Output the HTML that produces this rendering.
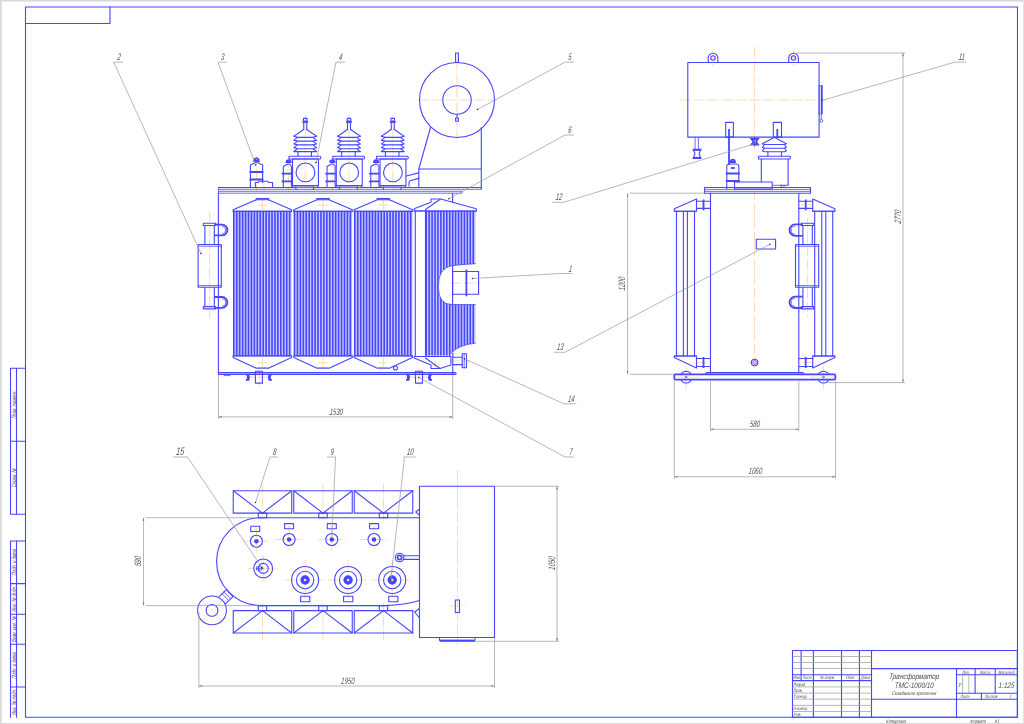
<!DOCTYPE html>
<html><head><meta charset="utf-8"><style>
html,body{margin:0;padding:0;background:#fff;}
svg{display:block;will-change:transform;}
.b{stroke:#4646ff;stroke-width:1.1;fill:none;stroke-linejoin:round;stroke-linecap:round}
.bf{fill:#4646ff;stroke:none}
.bt{stroke:#4646ff;stroke-width:0.8;fill:none}
.bk{stroke:#4646ff;stroke-width:1.8;fill:none}
.g{stroke:#9a9a9a;stroke-width:0.7;fill:none}
.c{stroke:#ffd4ac;stroke-width:0.9;fill:none;stroke-dasharray:10 1.5 1 1.5}
.t{font-family:"Liberation Sans",sans-serif;font-style:italic;fill:#4a4a4a;}
</style></head><body>
<svg width="1024" height="724" viewBox="0 0 1024 724">
<rect x="0" y="0" width="1024" height="724" fill="#fff"/>
<rect x="0" y="0" width="1024" height="1.5" fill="#d9d9d9"/>
<rect x="0" y="0" width="1.7" height="724" fill="#d9d9d9"/>
<rect x="0" y="723" width="1024" height="1" fill="#d9d9d9"/>
<rect x="1023" y="0" width="1" height="724" fill="#e4e4e4"/>

<path class="c" d="M418 100L497 100M457 60L457 143M305.25 115L305.25 190M349 115L349 190M392.75 115L392.75 190M288.6 158L288.6 192M332.35 158L332.35 192M376.1 158L376.1 192M256.5 156L256.5 192M264 181L264 193M257.35 205L267.35 205M262.35 200L262.35 210M257.35 362.8L267.35 362.8M262.35 357.5L262.35 367.5M318.05 205L328.05 205M323.05 200L323.05 210M318.05 362.8L328.05 362.8M323.05 357.5L323.05 367.5M378.35 205L388.35 205M383.35 200L383.35 210M378.35 362.8L388.35 362.8M383.35 357.5L383.35 367.5M431.5 365L440 365M435 360L435 369M450 283L480 283M450 361L470 361M244.89999999999998 377.2L272.9 377.2M258.9 368L258.9 386M405 377.2L433 377.2M419 368L419 386M209.6 212L209.6 318M754.6 47L754.6 150M680 100L826 100M706 58L720 58M713 50L713 66M786.5 58L800.5 58M793.5 50L793.5 66M754.6 190L754.6 375M696 204.8L712 204.8M696 362.5L712 362.5M813.2 204.8L797.2 204.8M813.2 362.5L797.2 362.5M748.6 362.5L760.6 362.5M686.1 366L686.1 389M823.5 366L823.5 389M807.6 218L807.6 318M262.5 484L262.5 520M262.5 603L262.5 640M323.0 484L323.0 520M323.0 603L323.0 640M383.5 484L383.5 520M383.5 603L383.5 640M457.5 470L457.5 645M450 606L465 606M242.89999999999998 541.25L269.9 541.25M256.4 528.25L256.4 554.25M275.6 539.5L302.6 539.5M289.1 526.5L289.1 552.5M318.3 539.5L345.3 539.5M331.8 526.5L331.8 552.5M360.5 539.5L387.5 539.5M374 526.5L374 552.5M248 568.4L278 568.4M263.25 555L263.25 582M285.1 580L325.1 580M305.1 560L305.1 600M328.1 580L368.1 580M348.1 560L348.1 600M372.2 580L412.2 580M392.2 560L392.2 600M202 600.4 L222 620.4 M202 620.4 L222 600.4M216 606.6L231 591.6"/>
<g>
<rect class="b" x="25.5" y="7" width="992" height="710.2"/>
<path class="b" d="M25.5 23.5 H110 V7"/>
<path class="b" d="M25.5 368.3 H10.5 V514.3 H25.5"/>
<line class="b" x1="16.5" y1="368.3" x2="16.5" y2="514.3"/>
<line class="b" x1="10.5" y1="441.3" x2="25.5" y2="441.3"/>
<path class="b" d="M25.5 541 H10.5 V717.2"/>
<line class="b" x1="16.5" y1="541" x2="16.5" y2="717.2"/>
<line class="b" x1="10.5" y1="583.6" x2="25.5" y2="583.6"/>
<line class="b" x1="10.5" y1="614.3" x2="25.5" y2="614.3"/>
<line class="b" x1="10.5" y1="644.3" x2="25.5" y2="644.3"/>
<line class="b" x1="10.5" y1="687" x2="25.5" y2="687"/>
</g>
<text class="t" transform="translate(15.6,404.8) rotate(-90) skewX(-5) scale(0.7,1)" font-size="6.0" text-anchor="middle">Перв. примен.</text>
<text class="t" transform="translate(15.6,477.79999999999995) rotate(-90) skewX(-5) scale(0.7,1)" font-size="6.0" text-anchor="middle">Справ. №</text>
<text class="t" transform="translate(15.6,562.3) rotate(-90) skewX(-5) scale(0.7,1)" font-size="6.0" text-anchor="middle">Подп. и дата</text>
<text class="t" transform="translate(15.6,598.95) rotate(-90) skewX(-5) scale(0.7,1)" font-size="6.0" text-anchor="middle">Инв. № дубл.</text>
<text class="t" transform="translate(15.6,629.3) rotate(-90) skewX(-5) scale(0.7,1)" font-size="6.0" text-anchor="middle">Взам. инв. №</text>
<text class="t" transform="translate(15.6,665.65) rotate(-90) skewX(-5) scale(0.7,1)" font-size="6.0" text-anchor="middle">Подп. и дата</text>
<text class="t" transform="translate(15.6,702.1) rotate(-90) skewX(-5) scale(0.7,1)" font-size="6.0" text-anchor="middle">Инв. № подл.</text>
<rect class="b" x="792.5" y="650.5" width="224.8" height="66.7"/>
<line class="b" x1="813.4" y1="650.5" x2="813.4" y2="717.2"/>
<line class="b" x1="841.5" y1="650.5" x2="841.5" y2="717.2"/>
<line class="b" x1="859.4" y1="650.5" x2="859.4" y2="717.2"/>
<line class="b" x1="871.5" y1="650.5" x2="871.5" y2="717.2"/>
<line class="b" x1="801.1" y1="650.5" x2="801.1" y2="680.6"/>
<line class="g" x1="792.5" y1="656.5" x2="871.5" y2="656.5"/>
<line class="g" x1="792.5" y1="662.5" x2="871.5" y2="662.5"/>
<line class="g" x1="792.5" y1="668.5" x2="871.5" y2="668.5"/>
<line class="b" x1="792.5" y1="674.75" x2="871.5" y2="674.75"/>
<line class="b" x1="792.5" y1="680.6" x2="871.5" y2="680.6"/>
<line class="g" x1="792.5" y1="686.9" x2="871.5" y2="686.9"/>
<line class="g" x1="792.5" y1="693.1" x2="871.5" y2="693.1"/>
<line class="g" x1="792.5" y1="699.1" x2="871.5" y2="699.1"/>
<line class="g" x1="792.5" y1="705.4" x2="871.5" y2="705.4"/>
<line class="g" x1="792.5" y1="711.5" x2="871.5" y2="711.5"/>
<line class="b" x1="871.5" y1="668.6" x2="1017.3" y2="668.6"/>
<line class="b" x1="871.5" y1="699.3" x2="1017.3" y2="699.3"/>
<line class="b" x1="956.5" y1="668.6" x2="956.5" y2="717.2"/>
<line class="b" x1="956.5" y1="674.7" x2="1017.3" y2="674.7"/>
<line class="b" x1="956.5" y1="693.2" x2="1017.3" y2="693.2"/>
<line class="b" x1="975.1" y1="668.6" x2="975.1" y2="693.2"/>
<line class="b" x1="995.2" y1="668.6" x2="995.2" y2="693.2"/>
<line class="b" x1="981.4" y1="693.2" x2="981.4" y2="699.3"/>
<line class="g" x1="962.6" y1="674.7" x2="962.6" y2="693.2"/>
<line class="g" x1="968.8" y1="674.7" x2="968.8" y2="693.2"/>
<text class="t" transform="translate(797,679.4) skewX(-5) scale(0.75,1)" font-size="4.6" text-anchor="middle">Изм.</text>
<text class="t" transform="translate(807.3,679.4) skewX(-5) scale(0.75,1)" font-size="4.6" text-anchor="middle">Лист</text>
<text class="t" transform="translate(827.5,679.4) skewX(-5) scale(0.75,1)" font-size="4.6" text-anchor="middle">№ докум.</text>
<text class="t" transform="translate(850.5,679.4) skewX(-5) scale(0.75,1)" font-size="4.6" text-anchor="middle">Подп.</text>
<text class="t" transform="translate(865.5,679.4) skewX(-5) scale(0.75,1)" font-size="4.6" text-anchor="middle">Дата</text>
<text class="t" transform="translate(793.5,685.6) skewX(-5) scale(0.75,1)" font-size="4.6" text-anchor="start">Разраб.</text>
<text class="t" transform="translate(793.5,691.8) skewX(-5) scale(0.75,1)" font-size="4.6" text-anchor="start">Пров.</text>
<text class="t" transform="translate(793.5,697.8) skewX(-5) scale(0.75,1)" font-size="4.6" text-anchor="start">Т.контр.</text>
<text class="t" transform="translate(793.5,710.2) skewX(-5) scale(0.75,1)" font-size="4.6" text-anchor="start">Н.контр.</text>
<text class="t" transform="translate(793.5,716) skewX(-5) scale(0.75,1)" font-size="4.6" text-anchor="start">Утв.</text>
<text class="t" transform="translate(914,679) skewX(-5) scale(0.8,1)" font-size="8" text-anchor="middle">Трансформатор</text>
<text class="t" transform="translate(914,687.5) skewX(-5) scale(0.8,1)" font-size="8" text-anchor="middle">ТМС-1000/10</text>
<text class="t" transform="translate(914,695) skewX(-5) scale(0.8,1)" font-size="5.2" text-anchor="middle">Складальне креслення</text>
<text class="t" transform="translate(966,673.6) skewX(-5) scale(0.75,1)" font-size="4.6" text-anchor="middle">Лит.</text>
<text class="t" transform="translate(985.2,673.6) skewX(-5) scale(0.75,1)" font-size="4.6" text-anchor="middle">Масса</text>
<text class="t" transform="translate(1006.3,673.6) skewX(-5) scale(0.75,1)" font-size="4.6" text-anchor="middle">Масштаб</text>
<text class="t" transform="translate(1006.3,687.5) skewX(-5) scale(0.8,1)" font-size="8" text-anchor="middle">1:125</text>
<text class="t" transform="translate(959.5,687) skewX(-5) scale(0.8,1)" font-size="6" text-anchor="middle">У</text>
<text class="t" transform="translate(965,698.4) skewX(-5) scale(0.75,1)" font-size="4.6" text-anchor="middle">Лист</text>
<text class="t" transform="translate(991,698.4) skewX(-5) scale(0.75,1)" font-size="4.6" text-anchor="middle">Листов</text>
<text class="t" transform="translate(1010.5,698.4) skewX(-5) scale(0.75,1)" font-size="4.6" text-anchor="middle">1</text>
<text class="t" transform="translate(896,722.5) skewX(-5) scale(0.8,1)" font-size="5" text-anchor="middle">Копировал</text>
<text class="t" transform="translate(978,722.5) skewX(-5) scale(0.8,1)" font-size="5" text-anchor="middle">Формат</text>
<text class="t" transform="translate(997,722.5) skewX(-5) scale(0.8,1)" font-size="5" text-anchor="middle">А1</text>
<circle class="b" cx="457" cy="100" r="37.5"/>
<circle class="b" cx="457" cy="100" r="14.25"/>
<rect class="b" x="455.6" y="53" width="2.8" height="9.5"/>
<path class="b" d="M457 114.3 V118 M455.6 118 h2.8 v3.2 h-2.8 z"/>
<path class="b" d="M430.5 127.5 L418.8 169 V187.3"/>
<path class="b" d="M418.8 169 H481.3 M481.3 127.5 V189.3"/>
<path class="b" d="M406.3 176 L418.8 172.9 M418.8 178.4 L410 180.7 Q409 181 409 183 V186"/>
<path class="bt" d="M218.4 187.5 H481.3 M218.4 189.3 H481.3 M218.4 191.3 H462.6 L461.8 193.2 H218.4 V187.5"/>
<line class="b" x1="218.4" y1="187.5" x2="481.3" y2="187.5"/>
<line class="b" x1="218.4" y1="193.2" x2="218.4" y2="373.6"/>
<line class="b" x1="452.6" y1="193.2" x2="452.6" y2="202.2"/>
<line class="b" x1="452.8" y1="353.3" x2="452.8" y2="373.6"/>
<path class="b" d="M218.4 372.6 H455.6 Q456.6 373.5 455.6 374.4 H218.4"/>
<path class="bt" d="M224.1 374.4 V375.6 H230 V374.4"/>
<rect class="b" x="303.45" y="118.4" width="3.6" height="2.6"/>
<path class="bk" d="M302.35 122 H308.15"/>
<path class="b" d="M303.75 123 V129.5 M306.75 123 V129.5"/>
<path class="b" d="M303.65 129.5 Q300.25 132 293.85 136.1 M306.85 129.5 Q310.25 132 316.65 136.1"/>
<path class="b" d="M293.85 136.3 L297.65 137.35000000000002 L293.85 140.1 L297.65 141.15 L293.85 143.85 L297.65 144.9 L293.85 147.65 L297.65 148.70000000000002 L293.85 151.4M316.65 136.3 L312.85 137.35000000000002 L316.65 140.1 L312.85 141.15 L316.65 143.85 L312.85 144.9 L316.65 147.65 L312.85 148.70000000000002 L316.65 151.4 M297.65 137.35000000000002 H312.85 M297.65 141.15 H312.85 M297.65 144.9 H312.85 M297.65 148.70000000000002 H312.85 M293.85 151.6 H316.65"/>
<path class="b" d="M297.95 151.6 V156.3 M311.45 151.6 V156.3"/>
<path class="b" d="M289.05 156.3 H320.25 Q321.45 157.6 320.25 159 H289.05 Z"/>
<rect class="b" x="292.55" y="159" width="25.9" height="26.6"/>
<circle class="b" cx="305.45" cy="172.4" r="9.4"/>
<path class="b" d="M295.95 185.6 V189.4 M313.45 185.6 V189.4 M317.85 185.6 V187.5"/>
<rect x="295.95" y="186" width="17.5" height="1.5" fill="#9a9aff"/>
<rect class="b" x="347.2" y="118.4" width="3.6" height="2.6"/>
<path class="bk" d="M346.1 122 H351.9"/>
<path class="b" d="M347.5 123 V129.5 M350.5 123 V129.5"/>
<path class="b" d="M347.4 129.5 Q344 132 337.6 136.1 M350.6 129.5 Q354 132 360.4 136.1"/>
<path class="b" d="M337.6 136.3 L341.4 137.35000000000002 L337.6 140.1 L341.4 141.15 L337.6 143.85 L341.4 144.9 L337.6 147.65 L341.4 148.70000000000002 L337.6 151.4M360.4 136.3 L356.6 137.35000000000002 L360.4 140.1 L356.6 141.15 L360.4 143.85 L356.6 144.9 L360.4 147.65 L356.6 148.70000000000002 L360.4 151.4 M341.4 137.35000000000002 H356.6 M341.4 141.15 H356.6 M341.4 144.9 H356.6 M341.4 148.70000000000002 H356.6 M337.6 151.6 H360.4"/>
<path class="b" d="M341.7 151.6 V156.3 M355.2 151.6 V156.3"/>
<path class="b" d="M332.8 156.3 H364 Q365.2 157.6 364 159 H332.8 Z"/>
<rect class="b" x="336.3" y="159" width="25.9" height="26.6"/>
<circle class="b" cx="349.2" cy="172.4" r="9.4"/>
<path class="b" d="M339.7 185.6 V189.4 M357.2 185.6 V189.4 M361.6 185.6 V187.5"/>
<rect x="339.7" y="186" width="17.5" height="1.5" fill="#9a9aff"/>
<rect class="b" x="390.95" y="118.4" width="3.6" height="2.6"/>
<path class="bk" d="M389.85 122 H395.65"/>
<path class="b" d="M391.25 123 V129.5 M394.25 123 V129.5"/>
<path class="b" d="M391.15 129.5 Q387.75 132 381.35 136.1 M394.35 129.5 Q397.75 132 404.15 136.1"/>
<path class="b" d="M381.35 136.3 L385.15 137.35000000000002 L381.35 140.1 L385.15 141.15 L381.35 143.85 L385.15 144.9 L381.35 147.65 L385.15 148.70000000000002 L381.35 151.4M404.15 136.3 L400.35 137.35000000000002 L404.15 140.1 L400.35 141.15 L404.15 143.85 L400.35 144.9 L404.15 147.65 L400.35 148.70000000000002 L404.15 151.4 M385.15 137.35000000000002 H400.35 M385.15 141.15 H400.35 M385.15 144.9 H400.35 M385.15 148.70000000000002 H400.35 M381.35 151.6 H404.15"/>
<path class="b" d="M385.45 151.6 V156.3 M398.95 151.6 V156.3"/>
<path class="b" d="M376.55 156.3 H407.75 Q408.95 157.6 407.75 159 H376.55 Z"/>
<rect class="b" x="380.05" y="159" width="25.9" height="26.6"/>
<circle class="b" cx="392.95" cy="172.4" r="9.4"/>
<path class="b" d="M383.45 185.6 V189.4 M400.95 185.6 V189.4 M405.35 185.6 V187.5"/>
<rect x="383.45" y="186" width="17.5" height="1.5" fill="#9a9aff"/>
<path class="bk" d="M286.5 162.2 Q286.6 160.2 288.6 160.2 Q290.6 160.2 290.70000000000005 162.2 Z"/>
<path class="b" d="M283.3 187.5 V166.6 L287.8 164 H289.40000000000003 L291.40000000000003 166.2 V186.3 L294.1 187.5 H281.6"/>
<path class="bk" d="M281.6 173.6 H291.6 M281.6 181.3 H291.6"/>
<path class="bk" d="M330.25 162.2 Q330.35 160.2 332.35 160.2 Q334.35 160.2 334.45000000000005 162.2 Z"/>
<path class="b" d="M327.05 187.5 V166.6 L331.55 164 H333.15000000000003 L335.15000000000003 166.2 V186.3 L337.85 187.5 H325.35"/>
<path class="bk" d="M325.35 173.6 H335.35 M325.35 181.3 H335.35"/>
<path class="bk" d="M374.0 162.2 Q374.1 160.2 376.1 160.2 Q378.1 160.2 378.20000000000005 162.2 Z"/>
<path class="b" d="M370.8 187.5 V166.6 L375.3 164 H376.90000000000003 L378.90000000000003 166.2 V186.3 L381.6 187.5 H369.1"/>
<path class="bk" d="M369.1 173.6 H379.1 M369.1 181.3 H379.1"/>
<path class="bk" d="M254.2 161 Q254.2 158.4 256.5 158.4 Q258.8 158.4 258.8 161 Z"/>
<path class="b" d="M250.4 187.3 V165 L255.0 162.8 H258.0 L262.6 165 V182.5"/>
<path class="bk" d="M249.5 172 H263.5 M249.5 179.5 H263.5"/>
<path class="b" d="M255.4 187.3 V182.5 H258.2 L259 181.3 H267.8 L268.6 182.5 H272.6 V187.3"/>
<g>
<rect x="233.1" y="211" width="58.50000000000003" height="144.8" fill="#c8c8ff"/>
<path d="M233.80 211V355.8M236.74 211V355.8M239.68 211V355.8M242.62 211V355.8M245.56 211V355.8M248.50 211V355.8M251.44 211V355.8M254.38 211V355.8M257.32 211V355.8M260.26 211V355.8M263.20 211V355.8M266.14 211V355.8M269.08 211V355.8M272.02 211V355.8M274.96 211V355.8M277.90 211V355.8M280.84 211V355.8M283.78 211V355.8M286.72 211V355.8M289.66 211V355.8" stroke="#4646ff" stroke-width="1.6" fill="none"/>
</g>
<path class="b" d="M233.1 211.2 V209.8 L256.35 199.8 H268.35 L291.6 209.8 V211.2 Z"/>
<path class="b" d="M256.15000000000003 199.8 V198.6 H268.55 V199.8"/>
<path class="b" d="M233.1 356 V357.6 L256.35 368.2 H268.35 L291.6 357.6 V356 Z"/>
<rect x="256.85" y="367.2" width="11" height="1.2" fill="#8a8aff"/>
<line class="b" x1="233.1" y1="211.2" x2="291.6" y2="211.2"/>
<line class="b" x1="233.1" y1="355.8" x2="291.6" y2="355.8"/>
<g>
<rect x="293.8" y="211" width="58.5" height="144.8" fill="#c8c8ff"/>
<path d="M294.50 211V355.8M297.44 211V355.8M300.38 211V355.8M303.32 211V355.8M306.26 211V355.8M309.20 211V355.8M312.14 211V355.8M315.08 211V355.8M318.02 211V355.8M320.96 211V355.8M323.90 211V355.8M326.84 211V355.8M329.78 211V355.8M332.72 211V355.8M335.66 211V355.8M338.60 211V355.8M341.54 211V355.8M344.48 211V355.8M347.42 211V355.8M350.36 211V355.8" stroke="#4646ff" stroke-width="1.6" fill="none"/>
</g>
<path class="b" d="M293.8 211.2 V209.8 L317.05 199.8 H329.05 L352.3 209.8 V211.2 Z"/>
<path class="b" d="M316.85 199.8 V198.6 H329.25 V199.8"/>
<path class="b" d="M293.8 356 V357.6 L317.05 368.2 H329.05 L352.3 357.6 V356 Z"/>
<rect x="317.55" y="367.2" width="11" height="1.2" fill="#8a8aff"/>
<line class="b" x1="293.8" y1="211.2" x2="352.3" y2="211.2"/>
<line class="b" x1="293.8" y1="355.8" x2="352.3" y2="355.8"/>
<g>
<rect x="354.1" y="211" width="58.5" height="144.8" fill="#c8c8ff"/>
<path d="M354.80 211V355.8M357.74 211V355.8M360.68 211V355.8M363.62 211V355.8M366.56 211V355.8M369.50 211V355.8M372.44 211V355.8M375.38 211V355.8M378.32 211V355.8M381.26 211V355.8M384.20 211V355.8M387.14 211V355.8M390.08 211V355.8M393.02 211V355.8M395.96 211V355.8M398.90 211V355.8M401.84 211V355.8M404.78 211V355.8M407.72 211V355.8M410.66 211V355.8" stroke="#4646ff" stroke-width="1.6" fill="none"/>
</g>
<path class="b" d="M354.1 211.2 V209.8 L377.35 199.8 H389.35 L412.6 209.8 V211.2 Z"/>
<path class="b" d="M377.15000000000003 199.8 V198.6 H389.55 V199.8"/>
<path class="b" d="M354.1 356 V357.6 L377.35 368.2 H389.35 L412.6 357.6 V356 Z"/>
<rect x="377.85" y="367.2" width="11" height="1.2" fill="#8a8aff"/>
<line class="b" x1="354.1" y1="211.2" x2="412.6" y2="211.2"/>
<line class="b" x1="354.1" y1="355.8" x2="412.6" y2="355.8"/>
<defs><clipPath id="r4"><path d="M425.5 211 H475.8 V263.7 Q460 264.5 451.9 265.7 Q438 268 438.3 287 Q438.5 304.5 451.9 304.6 H475.8 V343.1 Q458.7 344.7 451 353.3 V355.8 H425.5 Z"/></clipPath></defs>
<g clip-path="url(#r4)">
<rect x="425.5" y="211" width="50.30000000000001" height="144.8" fill="#c8c8ff"/>
<path d="M426.20 211V355.8M429.14 211V355.8M432.08 211V355.8M435.02 211V355.8M437.96 211V355.8M440.90 211V355.8M443.84 211V355.8M446.78 211V355.8M449.72 211V355.8M452.66 211V355.8M455.60 211V355.8M458.54 211V355.8M461.48 211V355.8M464.42 211V355.8M467.36 211V355.8M470.30 211V355.8M473.24 211V355.8" stroke="#4646ff" stroke-width="1.6" fill="none"/>
</g>
<path class="b" d="M414.2 211 V208.8 L431 202.2 V199 H440.7 L476.3 208.8 V211 Z"/>
<path class="b" d="M440.2 199.3 L425.5 209.5 V356 M415.3 211 V356"/>
<line class="b" x1="414.2" y1="211" x2="476.3" y2="211"/>
<path class="b" d="M414.2 356.5 V358 L431 365 V368.5 H440 L450.9 365 V356.5 Z"/>
<path class="b" d="M425.5 358 L440 368.5"/>
<path class="bt" d="M475.8 263.7 Q460 264.5 451.9 265.7 Q438 268 438.3 287 Q438.5 304.5 451.9 304.6 H475.8"/>
<path class="bt" d="M475.8 343.1 Q458.7 344.7 451 353.3"/>
<rect class="b" x="452.6" y="271.5" width="26" height="22.8"/>
<line class="b" x1="452.6" y1="266" x2="452.6" y2="304.4"/>
<line class="bk" x1="466.4" y1="269.5" x2="466.4" y2="296.3"/>
<path class="b" d="M452.8 357.2 H462.2 M452.8 364.6 H462.2"/>
<rect class="b" x="462.2" y="353.7" width="4.3" height="14"/>
<line class="bt" x1="464.2" y1="353.7" x2="464.2" y2="367.7"/>
<circle class="b" cx="395.5" cy="368" r="2"/>
<rect class="b" x="255.39999999999998" y="371.3" width="7" height="11.8"/>
<path class="bk" d="M245.89999999999998 374.6 H249.39999999999998 M245.89999999999998 379.9 H249.39999999999998 M271.9 374.6 H268.4 M271.9 379.9 H268.4"/>
<path class="bk" d="M248.09999999999997 375 Q249.89999999999998 377.2 248.09999999999997 379.5 M269.7 375 Q267.9 377.2 269.7 379.5"/>
<rect x="246.89999999999998" y="375" width="1.8" height="4.5" fill="#4646ff"/>
<rect x="269.09999999999997" y="375" width="1.8" height="4.5" fill="#4646ff"/>
<rect class="b" x="415.5" y="371.3" width="7" height="11.8"/>
<path class="bk" d="M406 374.6 H409.5 M406 379.9 H409.5 M432 374.6 H428.5 M432 379.9 H428.5"/>
<path class="bk" d="M408.2 375 Q410 377.2 408.2 379.5 M429.8 375 Q428 377.2 429.8 379.5"/>
<rect x="407" y="375" width="1.8" height="4.5" fill="#4646ff"/>
<rect x="429.2" y="375" width="1.8" height="4.5" fill="#4646ff"/>
<path class="b" d="M203.3 223.2 H215.7 V225.5 H203.3 Z"/>
<path class="b" d="M204.9 225.5 V244.5 M214.3 225.5 V244.5"/>
<path class="bk" d="M214.3 224.6 H222 A5.4 5.4 0 0 1 222 235.4 H214.3"/>
<path class="bt" d="M222 226.2 A3.8 3.8 0 0 1 222 233.8"/>
<rect class="b" x="198.1" y="244.5" width="23.2" height="42.8"/>
<line class="bt" x1="198.1" y1="246.2" x2="221.3" y2="246.2"/>
<line class="bt" x1="198.1" y1="285.6" x2="221.3" y2="285.6"/>
<path class="b" d="M204.9 287.3 V306.6 M214.3 287.3 V306.6"/>
<path class="b" d="M203.3 306.6 H215.7 V308.9 H203.3 Z"/>
<path class="bk" d="M214.3 297 H222 A5.4 5.4 0 0 1 222 307.8 H214.3"/>
<path class="bt" d="M222 298.6 A3.8 3.8 0 0 1 222 306.2"/>
<rect class="b" x="687.8" y="62.5" width="131.3" height="74.6"/>
<path class="b" d="M708.2 62.5 V58 A4.8 4.8 0 0 1 717.8 58 V62.5"/>
<circle class="b" cx="713" cy="58" r="2.2"/>
<path class="b" d="M788.7 62.5 V58 A4.8 4.8 0 0 1 798.3 58 V62.5"/>
<circle class="b" cx="793.5" cy="58" r="2.2"/>
<rect class="bt" x="819.1" y="85.6" width="3.2" height="28.3"/>
<rect x="820.8" y="86" width="1.3" height="27.5" fill="#4646ff"/>
<line class="bt" x1="821.3" y1="114" x2="821.3" y2="119.3"/>
<circle class="bt" cx="821.3" cy="120.8" r="1.45"/>
<rect class="b" x="725.7" y="122.4" width="7.7" height="14.7"/>
<rect class="b" x="773.3" y="122.4" width="8.2" height="14.7"/>
<line class="bk" x1="729" y1="129" x2="729" y2="165"/>
<line class="bk" x1="777.3" y1="129" x2="777.3" y2="137"/>
<path class="bt" d="M695.1 137.1 V149.2 M698.4 137.1 V149.2"/>
<path class="b" d="M693 149.2 H701.1 L699 153.8 L701.1 158.5 H693 L695 153.8 Z"/>
<line class="bk" x1="693.5" y1="150" x2="700.5" y2="150"/>
<line class="bk" x1="693.5" y1="157.8" x2="700.5" y2="157.8"/>
<path class="bk" d="M751.5 139 H758 L756 141.7 L758 144.5 H751.5 L753.5 141.7 Z"/>
<line class="bt" x1="754.6" y1="137" x2="754.6" y2="146.4"/>
<path class="b" d="M773.6 137.7 L762.4 143.7 L764.4 144.5 H784.4 L786.4 143.7 L775.1999999999999 137.7"/>
<path class="b" d="M764.4 144.5 L762.4 147.5 L764.4 148.3 H784.4 L786.4 147.5 L784.4 144.5"/>
<path class="b" d="M764.4 148 L762.4 151 L764.4 151.8 H784.4 L786.4 151 L784.4 148"/>
<path class="b" d="M767.9 151.9 V156.3 M781.5 151.9 V156.3"/>
<path class="b" d="M758.6 156.3 H790.0 Q790.8 157.6 790.0 159 H758.6 Z"/>
<path class="b" d="M761.3 159 V182 M788.1 159 V185.3 H780.4"/>
<path class="bk" d="M730.5999999999999 162 Q730.8 159.6 732.8 159.6 Q734.8 159.6 735.0 162 Z"/>
<path class="b" d="M726.8 189 V166 Q726.8 164 729.8 164 H735.8 Q738.8 164 738.8 166 V182"/>
<path class="bk" d="M730.8 168 H734.8"/>
<path class="bk" d="M725.8 173.5 H739.8 M725.8 181 H739.8"/>
<rect class="b" x="734.5" y="182" width="37.7" height="7.1"/>
<path class="bt" d="M772.2 185.3 H781.5 V187.5 M784 185.3 V187.5"/>
<path class="b" d="M704.5 187.5 H810.5 V193.3 H704.5 Z"/>
<path class="bt" d="M704.5 189.4 H810.5 M704.5 191.4 H810.5"/>
<line class="b" x1="710.5" y1="193.3" x2="710.5" y2="373"/>
<line class="b" x1="798.8" y1="193.3" x2="798.8" y2="373"/>
<rect class="b" x="756.3" y="239.3" width="19.3" height="9.7"/>
<path class="b" d="M674.3 211.3 V208.8 L696.5 199 V211.3 Z"/>
<path class="b" d="M674.3 356 V357.5 L696.5 368 V356 Z"/>
<line class="b" x1="676.5" y1="211.3" x2="676.5" y2="356"/>
<line class="b" x1="683.4" y1="211.3" x2="683.4" y2="356"/>
<line class="b" x1="687.4" y1="211.3" x2="687.4" y2="356"/>
<line class="b" x1="694.5" y1="211.3" x2="694.5" y2="356"/>
<line class="b" x1="674.3" y1="211.3" x2="696.5" y2="211.3"/>
<line class="b" x1="674.3" y1="356" x2="696.5" y2="356"/>
<path class="b" d="M696.5 201.3 H710.5 M696.5 208.4 H710.5"/>
<line class="bk" x1="703.5" y1="199.5" x2="703.5" y2="210.3"/>
<path class="b" d="M696.5 358.5 H710.5 M696.5 366.5 H710.5"/>
<line class="bk" x1="703.5" y1="357" x2="703.5" y2="368"/>
<path class="b" d="M834.9000000000001 211.3 V208.8 L812.7 199 V211.3 Z"/>
<path class="b" d="M834.9000000000001 356 V357.5 L812.7 368 V356 Z"/>
<line class="b" x1="832.7" y1="211.3" x2="832.7" y2="356"/>
<line class="b" x1="825.8000000000001" y1="211.3" x2="825.8000000000001" y2="356"/>
<line class="b" x1="821.8000000000001" y1="211.3" x2="821.8000000000001" y2="356"/>
<line class="b" x1="814.7" y1="211.3" x2="814.7" y2="356"/>
<line class="b" x1="834.9000000000001" y1="211.3" x2="812.7" y2="211.3"/>
<line class="b" x1="834.9000000000001" y1="356" x2="812.7" y2="356"/>
<path class="b" d="M812.7 201.3 H798.7 M812.7 208.4 H798.7"/>
<line class="bk" x1="805.7" y1="199.5" x2="805.7" y2="210.3"/>
<path class="b" d="M812.7 358.5 H798.7 M812.7 366.5 H798.7"/>
<line class="bk" x1="805.7" y1="357" x2="805.7" y2="368"/>
<circle class="b" cx="754.6" cy="362.5" r="3.2"/>
<circle class="bt" cx="754.6" cy="362.5" r="1.8"/>
<circle class="b" cx="686.1" cy="377.1" r="5.9"/>
<circle class="b" cx="823.5" cy="377.1" r="5.9"/>
<rect x="674" y="375" width="161.3" height="4.2" fill="#fff"/>
<path d="M676 377.1 H700 M810 377.1 H834" stroke="#ffdcb8" stroke-width="0.9" fill="none"/>
<circle class="bt" cx="686.1" cy="377.1" r="0.9"/>
<circle class="bt" cx="823.5" cy="377.1" r="0.9"/>
<path class="bk" d="M674.3 374.4 H835.3 M674.3 379.6 H835.3 M674.3 374.4 V379.6 M835.3 374.4 V379.6"/>
<path class="b" d="M705.4 374 L706.6 372.6 H803 L804 374"/>
<path class="b" d="M801.3 223.2 H813.7 V225.5 H801.3 Z"/>
<path class="b" d="M802.9 225.5 V244.5 M812.3 225.5 V244.5"/>
<path class="bk" d="M802.9 224.4 H795.2 A5.7 5.7 0 0 0 795.2 235.8 H802.9"/>
<path class="bt" d="M795.2 226 A4 4 0 0 0 795.2 234.2"/>
<rect class="b" x="795.5" y="244.5" width="23.2" height="42.8"/>
<line class="bt" x1="795.5" y1="246.2" x2="818.7" y2="246.2"/>
<line class="bt" x1="795.5" y1="285.6" x2="818.7" y2="285.6"/>
<path class="b" d="M802.9 287.3 V306.6 M812.3 287.3 V306.6"/>
<path class="b" d="M801.3 306.6 H813.7 V308.9 H801.3 Z"/>
<path class="bk" d="M802.9 296.6 H795.2 A5.7 5.7 0 0 0 795.2 308 H802.9"/>
<path class="bt" d="M795.2 298.2 A4 4 0 0 0 795.2 306.4"/>
<path class="b" d="M260.5 517.75 H419.5"/>
<path class="b" d="M260.5 517.75 A43.9 43.9 0 0 0 260.5 605.6 H384.5 Q405 605 419.5 600.5"/>
<rect class="b" x="233.25" y="490.75" width="58.5" height="22.4"/>
<path class="b" d="M233.25 490.75 L262.5 513.15 L291.75 490.75"/>
<rect class="b" x="258.3" y="513.15" width="8.4" height="4.6"/>
<rect class="b" x="233.25" y="610.6" width="58.5" height="22.4"/>
<path class="b" d="M233.25 633 L262.5 610.6 L291.75 633"/>
<rect class="b" x="258.3" y="605.6" width="8.4" height="5"/>
<rect class="b" x="293.75" y="490.75" width="58.5" height="22.4"/>
<path class="b" d="M293.75 490.75 L323.0 513.15 L352.25 490.75"/>
<rect class="b" x="318.8" y="513.15" width="8.4" height="4.6"/>
<rect class="b" x="293.75" y="610.6" width="58.5" height="22.4"/>
<path class="b" d="M293.75 633 L323.0 610.6 L352.25 633"/>
<rect class="b" x="318.8" y="605.6" width="8.4" height="5"/>
<rect class="b" x="354.25" y="490.75" width="58.5" height="22.4"/>
<path class="b" d="M354.25 490.75 L383.5 513.15 L412.75 490.75"/>
<rect class="b" x="379.3" y="513.15" width="8.4" height="4.6"/>
<rect class="b" x="354.25" y="610.6" width="58.5" height="22.4"/>
<path class="b" d="M354.25 633 L383.5 610.6 L412.75 633"/>
<rect class="b" x="379.3" y="605.6" width="8.4" height="5"/>
<path class="b" d="M419.5 508.8 L415.8 512 L419.5 515.2"/>
<path class="b" d="M419.5 608.5 L414.6 612 L419.5 618"/>
<rect class="b" x="419.5" y="486.25" width="75" height="151.25"/>
<path class="b" d="M439.5 637.5 V640.2 L440.5 641.3 H474 L475 640.2 V637.5"/>
<rect x="440" y="639.6" width="34.5" height="1.6" fill="#4646ff"/>
<rect class="b" x="455.3" y="600" width="4.2" height="12.5"/>
<rect class="b" x="250.75" y="526.25" width="9" height="5.2"/>
<line class="bt" x1="255.25" y1="528.85" x2="255.25" y2="529.25"/>
<rect class="b" x="284.6" y="523.6" width="9" height="5.2"/>
<line class="bt" x1="289.1" y1="526.2" x2="289.1" y2="526.6"/>
<rect class="b" x="327.3" y="523.6" width="9" height="5.2"/>
<line class="bt" x1="331.8" y1="526.2" x2="331.8" y2="526.6"/>
<rect class="b" x="369.6" y="523.6" width="9" height="5.2"/>
<line class="bt" x1="374.1" y1="526.2" x2="374.1" y2="526.6"/>
<circle class="b" cx="256.4" cy="541.25" r="6"/>
<circle cx="256.4" cy="541.25" r="2.3" fill="#4646ff"/>
<circle class="b" cx="289.1" cy="539.5" r="6"/>
<circle cx="289.1" cy="539.5" r="2.3" fill="#4646ff"/>
<circle class="b" cx="331.8" cy="539.5" r="6"/>
<circle cx="331.8" cy="539.5" r="2.3" fill="#4646ff"/>
<circle class="b" cx="374" cy="539.5" r="6"/>
<circle cx="374" cy="539.5" r="2.3" fill="#4646ff"/>
<circle class="b" cx="263.25" cy="568.4" r="9.4"/>
<circle class="b" cx="263.25" cy="568.4" r="5"/>
<path class="bt" d="M256.5 568.4 H263.5 M256.5 566.8 H262 V570 H256.5 Z"/>
<circle class="b" cx="305.1" cy="580" r="13.5"/>
<circle class="b" cx="305.1" cy="580" r="8.7"/>
<circle cx="305.1" cy="580" r="3.0" fill="none" stroke="#4646ff" stroke-width="3.4"/>
<rect class="b" x="300.6" y="596.3" width="9.2" height="5.4"/>
<circle class="b" cx="348.1" cy="580" r="13.5"/>
<circle class="b" cx="348.1" cy="580" r="8.7"/>
<circle cx="348.1" cy="580" r="3.0" fill="none" stroke="#4646ff" stroke-width="3.4"/>
<rect class="b" x="343.6" y="596.3" width="9.2" height="5.4"/>
<circle class="b" cx="392.2" cy="580" r="13.5"/>
<circle class="b" cx="392.2" cy="580" r="8.7"/>
<circle cx="392.2" cy="580" r="3.0" fill="none" stroke="#4646ff" stroke-width="3.4"/>
<rect class="b" x="388.7" y="596.3" width="9.2" height="5.4"/>
<circle class="b" cx="399.6" cy="557.5" r="4.3"/>
<circle class="bk" cx="399.6" cy="557.5" r="2.1"/>
<path class="b" d="M403.3 555.8 H419.5 M403.3 559.4 H419.5"/>
<circle class="b" cx="212" cy="610.4" r="14.4"/>
<circle class="b" cx="212" cy="610.4" r="5.9"/>
<path class="b" d="M218.9 596.9 L226.4 589.7 L232.9 596.6 L225.1 604.1"/>
<path class="bt" d="M221.5 593 L228.5 600.5 M223.3 591.5 L230.5 598.7"/>
<text class="t" transform="translate(118.8,59.9) skewX(-7) scale(0.6,1)" font-size="9.6" text-anchor="middle" style="fill:#505050">2</text>
<line class="g" x1="113.7" y1="62.1" x2="123.1" y2="62.1"/>
<line class="g" x1="113.7" y1="62.1" x2="201" y2="253.5"/>
<circle cx="201" cy="253.5" r="0.8" fill="#333"/>
<text class="t" transform="translate(222.3,59.9) skewX(-7) scale(0.6,1)" font-size="9.6" text-anchor="middle" style="fill:#505050">3</text>
<line class="g" x1="218" y1="62.1" x2="227" y2="62.1"/>
<line class="g" x1="218" y1="62.1" x2="255.5" y2="165"/>
<circle cx="255.5" cy="165" r="0.8" fill="#333"/>
<text class="t" transform="translate(340.3,59.9) skewX(-7) scale(0.6,1)" font-size="9.6" text-anchor="middle" style="fill:#505050">4</text>
<line class="g" x1="336" y1="62.1" x2="345" y2="62.1"/>
<line class="g" x1="336" y1="62.1" x2="316" y2="162.5"/>
<circle cx="316" cy="162.5" r="0.8" fill="#333"/>
<text class="t" transform="translate(569.5,59.9) skewX(-7) scale(0.6,1)" font-size="9.6" text-anchor="middle" style="fill:#505050">5</text>
<line class="g" x1="565" y1="62.1" x2="573.8" y2="62.1"/>
<line class="g" x1="565" y1="62.1" x2="477.5" y2="109.5"/>
<circle cx="477.5" cy="109.5" r="0.8" fill="#333"/>
<text class="t" transform="translate(569.5,133) skewX(-7) scale(0.6,1)" font-size="9.6" text-anchor="middle" style="fill:#505050">6</text>
<line class="g" x1="565" y1="135" x2="574" y2="135"/>
<line class="g" x1="565" y1="135" x2="448.8" y2="198.8"/>
<circle cx="448.8" cy="198.8" r="0.8" fill="#333"/>
<text class="t" transform="translate(961.5,59.9) skewX(-7) scale(0.6,1)" font-size="9.6" text-anchor="middle" style="fill:#505050">11</text>
<line class="g" x1="955" y1="62.1" x2="966" y2="62.1"/>
<line class="g" x1="955" y1="62.1" x2="821.8" y2="100.5"/>
<circle cx="821.8" cy="100.5" r="0.8" fill="#333"/>
<text class="t" transform="translate(558.8,199.5) skewX(-7) scale(0.6,1)" font-size="9.6" text-anchor="middle" style="fill:#505050">12</text>
<line class="g" x1="552.5" y1="202.3" x2="563.8" y2="202.3"/>
<line class="g" x1="563.8" y1="202.3" x2="754.7" y2="143.7"/>
<circle cx="754.7" cy="143.7" r="0.8" fill="#333"/>
<text class="t" transform="translate(570,271.5) skewX(-7) scale(0.6,1)" font-size="9.6" text-anchor="middle" style="fill:#505050">1</text>
<line class="g" x1="560" y1="273.5" x2="572.5" y2="273.5"/>
<line class="g" x1="560" y1="273.5" x2="472.5" y2="278.5"/>
<circle cx="472.5" cy="278.5" r="0.8" fill="#333"/>
<text class="t" transform="translate(560,349.5) skewX(-7) scale(0.6,1)" font-size="9.6" text-anchor="middle" style="fill:#505050">13</text>
<line class="g" x1="553.8" y1="352.3" x2="565" y2="352.3"/>
<line class="g" x1="565" y1="352.3" x2="770" y2="244.2"/>
<circle cx="770" cy="244.2" r="0.8" fill="#333"/>
<text class="t" transform="translate(571,401.5) skewX(-7) scale(0.6,1)" font-size="9.6" text-anchor="middle" style="fill:#505050">14</text>
<line class="g" x1="563.8" y1="403.8" x2="576.3" y2="403.8"/>
<line class="g" x1="563.8" y1="403.8" x2="464.5" y2="358.8"/>
<circle cx="464.5" cy="358.8" r="0.8" fill="#333"/>
<text class="t" transform="translate(570.5,454.5) skewX(-7) scale(0.6,1)" font-size="9.6" text-anchor="middle" style="fill:#505050">7</text>
<line class="g" x1="565" y1="457" x2="573.8" y2="457"/>
<line class="g" x1="565" y1="457" x2="418.8" y2="377.5"/>
<circle cx="418.8" cy="377.5" r="0.8" fill="#333"/>
<text class="t" transform="translate(179.8,455.3) skewX(-7) scale(0.66,1)" font-size="11" text-anchor="middle" style="fill:#505050">15</text>
<line class="g" x1="173" y1="457" x2="187.5" y2="457"/>
<line class="g" x1="187.5" y1="457" x2="261.8" y2="567.5"/>
<circle cx="261.8" cy="567.5" r="0.8" fill="#333"/>
<text class="t" transform="translate(274.3,454.5) skewX(-7) scale(0.6,1)" font-size="9.6" text-anchor="middle" style="fill:#505050">8</text>
<line class="g" x1="270" y1="457" x2="278" y2="457"/>
<line class="g" x1="270" y1="457" x2="255.5" y2="502.5"/>
<circle cx="255.5" cy="502.5" r="0.8" fill="#333"/>
<text class="t" transform="translate(331.8,454.5) skewX(-7) scale(0.6,1)" font-size="9.6" text-anchor="middle" style="fill:#505050">9</text>
<line class="g" x1="327" y1="457" x2="336" y2="457"/>
<line class="g" x1="335.5" y1="457" x2="331.8" y2="539.3"/>
<circle cx="331.8" cy="539.3" r="0.8" fill="#333"/>
<text class="t" transform="translate(410,454.5) skewX(-7) scale(0.6,1)" font-size="9.6" text-anchor="middle" style="fill:#505050">10</text>
<line class="g" x1="403.3" y1="457" x2="415.8" y2="457"/>
<line class="g" x1="404.5" y1="457" x2="390.8" y2="580"/>
<circle cx="390.8" cy="580" r="0.8" fill="#333"/>
<line class="g" x1="218.5" y1="375" x2="218.5" y2="418.9"/>
<line class="g" x1="452.7" y1="375" x2="452.7" y2="418.9"/>
<line class="g" x1="218.5" y1="416.9" x2="452.7" y2="416.9"/>
<path d="M218.5 416.9 L221.7 416.09999999999997 L221.7 417.7Z" fill="#777"/>
<path d="M452.7 416.9 L449.5 416.09999999999997 L449.5 417.7Z" fill="#777"/>
<text class="t" transform="translate(335.9,414.8) skewX(-7) scale(0.66,1)" font-size="9.2" text-anchor="middle" style="fill:#555">1530</text>
<line class="g" x1="710.5" y1="381" x2="710.5" y2="431.3"/>
<line class="g" x1="798.8" y1="381" x2="798.8" y2="431.3"/>
<line class="g" x1="710.5" y1="429.3" x2="798.8" y2="429.3"/>
<path d="M710.5 429.3 L713.7 428.5 L713.7 430.1Z" fill="#777"/>
<path d="M798.8 429.3 L795.5999999999999 428.5 L795.5999999999999 430.1Z" fill="#777"/>
<text class="t" transform="translate(754.6,426.5) skewX(-7) scale(0.66,1)" font-size="9.2" text-anchor="middle" style="fill:#555">580</text>
<line class="g" x1="674.3" y1="381" x2="674.3" y2="478.8"/>
<line class="g" x1="835.5" y1="381" x2="835.5" y2="478.8"/>
<line class="g" x1="674.3" y1="476.8" x2="835.5" y2="476.8"/>
<path d="M674.3 476.8 L677.5 476.0 L677.5 477.6Z" fill="#777"/>
<path d="M835.5 476.8 L832.3 476.0 L832.3 477.6Z" fill="#777"/>
<text class="t" transform="translate(755,474.3) skewX(-7) scale(0.66,1)" font-size="9.2" text-anchor="middle" style="fill:#555">1060</text>
<line class="g" x1="198.9" y1="612" x2="198.9" y2="688"/>
<line class="g" x1="494.5" y1="638" x2="494.5" y2="688"/>
<line class="g" x1="198.9" y1="686" x2="494.5" y2="686"/>
<path d="M198.9 686 L202.1 685.2 L202.1 686.8Z" fill="#777"/>
<path d="M494.5 686 L491.3 685.2 L491.3 686.8Z" fill="#777"/>
<text class="t" transform="translate(347.5,683.5) skewX(-7) scale(0.66,1)" font-size="9.2" text-anchor="middle" style="fill:#555">1950</text>
<line class="g" x1="704.4" y1="193.2" x2="629.6" y2="193.2"/>
<line class="g" x1="673.7" y1="374.3" x2="629.6" y2="374.3"/>
<line class="g" x1="627.6" y1="193.2" x2="627.6" y2="374.3"/>
<path d="M627.6 193.2 L626.8000000000001 196.39999999999998 L628.4 196.39999999999998Z" fill="#777"/>
<path d="M627.6 374.3 L626.8000000000001 371.1 L628.4 371.1Z" fill="#777"/>
<text class="t" transform="translate(625,284) rotate(-90) skewX(-7) scale(0.66,1)" font-size="9.2" text-anchor="middle" style="fill:#555">1200</text>
<line class="g" x1="796" y1="53" x2="905" y2="53"/>
<line class="g" x1="827.5" y1="382.6" x2="905" y2="382.6"/>
<line class="g" x1="903" y1="53" x2="903" y2="382.6"/>
<path d="M903 53 L902.2 56.2 L903.8 56.2Z" fill="#777"/>
<path d="M903 382.6 L902.2 379.40000000000003 L903.8 379.40000000000003Z" fill="#777"/>
<text class="t" transform="translate(900.5,217) rotate(-90) skewX(-7) scale(0.66,1)" font-size="9.2" text-anchor="middle" style="fill:#555">2770</text>
<line class="g" x1="258" y1="517.75" x2="145.5" y2="517.75"/>
<line class="g" x1="258" y1="605.6" x2="145.5" y2="605.6"/>
<line class="g" x1="143.5" y1="517.75" x2="143.5" y2="605.6"/>
<path d="M143.5 517.75 L142.7 520.95 L144.3 520.95Z" fill="#777"/>
<path d="M143.5 605.6 L142.7 602.4 L144.3 602.4Z" fill="#777"/>
<text class="t" transform="translate(141,561.5) rotate(-90) skewX(-7) scale(0.66,1)" font-size="9.2" text-anchor="middle" style="fill:#555">590</text>
<line class="g" x1="494.5" y1="486.25" x2="559" y2="486.25"/>
<line class="g" x1="475" y1="641.3" x2="559" y2="641.3"/>
<line class="g" x1="557" y1="486.25" x2="557" y2="641.3"/>
<path d="M557 486.25 L556.2 489.45 L557.8 489.45Z" fill="#777"/>
<path d="M557 641.3 L556.2 638.0999999999999 L557.8 638.0999999999999Z" fill="#777"/>
<text class="t" transform="translate(554.5,563.5) rotate(-90) skewX(-7) scale(0.66,1)" font-size="9.2" text-anchor="middle" style="fill:#555">1050</text>
</svg></body></html>
